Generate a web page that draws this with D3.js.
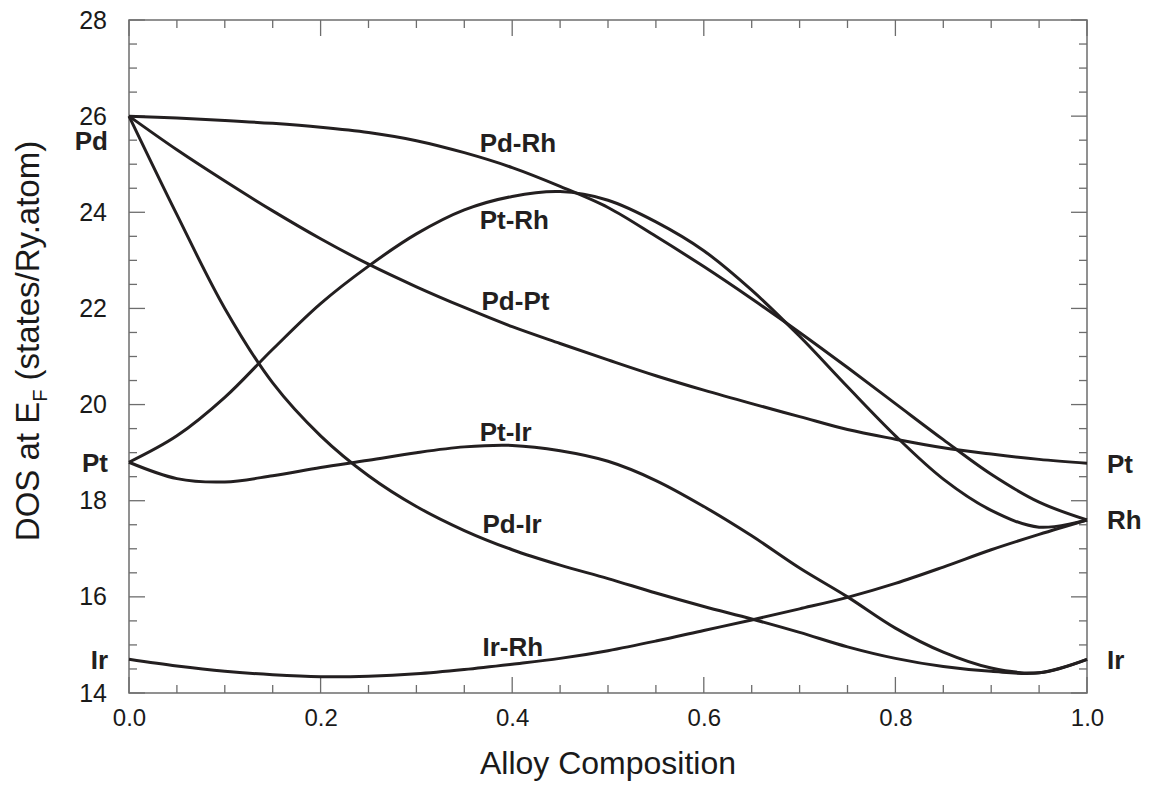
<!DOCTYPE html>
<html>
<head>
<meta charset="utf-8">
<script src="https://cdn.jsdelivr.net/npm/d3@7"></script>
<style>
  html, body { margin: 0; padding: 0; background: #fff; }
  svg { display: block; font-family: "Liberation Sans", Arial, Helvetica, sans-serif; }
</style>
</head>
<body>
<svg id="chart" width="1153" height="788"></svg>
<script>
// ---- data ----
const composition = [0, 0.05, 0.10, 0.15, 0.20, 0.25, 0.30, 0.35, 0.40, 0.45, 0.50,
                     0.55, 0.60, 0.65, 0.70, 0.75, 0.80, 0.85, 0.90, 0.95, 1.00];

const pdRh = [26.00, 25.96, 25.91, 25.85, 25.77, 25.66, 25.49, 25.24, 24.93, 24.54, 24.10,
              23.50, 22.87, 22.20, 21.50, 20.77, 20.02, 19.27, 18.55, 17.97, 17.60];
const ptRh = [18.80, 19.35, 20.15, 21.15, 22.10, 22.88, 23.55, 24.05, 24.33, 24.43, 24.25,
              23.80, 23.20, 22.38, 21.42, 20.37, 19.35, 18.45, 17.80, 17.45, 17.60];
const pdPt = [26.00, 25.30, 24.65, 24.03, 23.45, 22.92, 22.45, 22.02, 21.62, 21.27, 20.93,
              20.60, 20.30, 20.02, 19.75, 19.48, 19.28, 19.10, 18.97, 18.86, 18.78];
const ptIr = [18.80, 18.46, 18.39, 18.52, 18.69, 18.84, 19.00, 19.12, 19.15, 19.04, 18.82,
              18.42, 17.88, 17.27, 16.60, 16.00, 15.35, 14.85, 14.52, 14.42, 14.70];
const pdIr = [26.00, 23.95, 22.00, 20.45, 19.35, 18.52, 17.88, 17.38, 16.98, 16.66, 16.38,
              16.08, 15.80, 15.54, 15.26, 14.96, 14.72, 14.55, 14.45, 14.42, 14.70];
const irRh = [14.70, 14.56, 14.45, 14.38, 14.34, 14.35, 14.40, 14.49, 14.60, 14.72, 14.88,
              15.08, 15.30, 15.52, 15.75, 15.99, 16.28, 16.62, 16.98, 17.30, 17.60];

const seriesNames = ["Pd-Rh", "Pt-Rh", "Pd-Pt", "Pt-Ir", "Pd-Ir", "Ir-Rh"];
const seriesValues = [pdRh, ptRh, pdPt, ptIr, pdIr, irRh];
// label anchor (composition, DOS) for each curve label
const labelX = [0.366, 0.366, 0.368, 0.366, 0.369, 0.369];
const labelY = [25.25, 23.65, 21.97, 19.25, 17.33, 14.78];

const leftElements = ["Pd", "Pt", "Ir"];
const leftElementY = [25.50, 18.8, 14.7];
const rightElements = ["Pt", "Rh", "Ir"];
const rightElementY = [18.78, 17.6, 14.7];

const xTicks = [0, 0.2, 0.4, 0.6, 0.8, 1.0];
const yTicks = [14, 16, 18, 20, 22, 24, 26, 28];

// ---- layout ----
const W = 1153, H = 788;
const plot = { left: 129, right: 1087, top: 20, bottom: 693 };
const svg = d3.select("#chart");

const x = d3.scaleLinear().domain([0, 1]).range([plot.left, plot.right]);
const y = d3.scaleLinear().domain([14, 28]).range([plot.bottom, plot.top]);

const frameColor = "#6d6d6d";
const inkColor = "#231f20";

// minor / major ticks on all four sides (inside)
const xMinor = d3.range(0, 1.0001, 0.05);
const yMinor = d3.range(14, 28.0001, 0.5);
const major = 16, minor = 8;

const tickG = svg.append("g").attr("stroke", frameColor).attr("stroke-width", 1.3);
xMinor.forEach(v => {
  const isMajor = Math.abs(v * 5 - Math.round(v * 5)) < 1e-6;
  const len = isMajor ? major : minor;
  tickG.append("line").attr("x1", x(v)).attr("x2", x(v))
    .attr("y1", plot.bottom).attr("y2", plot.bottom - len);
  tickG.append("line").attr("x1", x(v)).attr("x2", x(v))
    .attr("y1", plot.top).attr("y2", plot.top + len);
});
yMinor.forEach(v => {
  const isMajor = Math.abs(v / 2 - Math.round(v / 2)) < 1e-6;
  const len = isMajor ? major : minor;
  tickG.append("line").attr("y1", y(v)).attr("y2", y(v))
    .attr("x1", plot.left).attr("x2", plot.left + len);
  tickG.append("line").attr("y1", y(v)).attr("y2", y(v))
    .attr("x1", plot.right).attr("x2", plot.right - len);
});

// frame
svg.append("rect")
  .attr("x", plot.left).attr("y", plot.top)
  .attr("width", plot.right - plot.left).attr("height", plot.bottom - plot.top)
  .attr("fill", "none").attr("stroke", frameColor).attr("stroke-width", 1.5);

// tick labels via d3 axes (tick lines hidden, drawn above)
const xAxis = d3.axisBottom(x).tickValues(xTicks).tickFormat(d3.format(".1f")).tickSize(0).tickPadding(16);
svg.append("g").attr("transform", `translate(0,${plot.bottom})`).call(xAxis)
  .call(g => g.select(".domain").remove())
  .selectAll("text").attr("font-size", 24).attr("fill", "#1a1a1a")
  .attr("font-family", "'Liberation Sans', Arial, sans-serif");

const yAxis = d3.axisLeft(y).tickValues(yTicks).tickFormat(d3.format("d")).tickSize(0).tickPadding(22);
svg.append("g").attr("transform", `translate(${plot.left},0)`).call(yAxis)
  .call(g => g.select(".domain").remove())
  .selectAll("text").attr("font-size", 25).attr("fill", "#1a1a1a")
  .attr("font-family", "'Liberation Sans', Arial, sans-serif");

// curves
const line = d3.line()
  .x((d, i) => x(composition[i]))
  .y(d => y(d))
  .curve(d3.curveCatmullRom.alpha(0.5));

svg.append("g").selectAll("path").data(seriesValues).join("path")
  .attr("d", d => line(d))
  .attr("fill", "none")
  .attr("stroke", inkColor)
  .attr("stroke-width", 3)
  .attr("stroke-linejoin", "round");

// curve labels
svg.append("g").selectAll("text").data(seriesNames).join("text")
  .attr("x", (d, i) => x(labelX[i]))
  .attr("y", (d, i) => y(labelY[i]))
  .attr("font-size", 26).attr("font-weight", "bold").attr("fill", inkColor)
  .text(d => d);

// element labels
svg.append("g").selectAll("text").data(leftElements).join("text")
  .attr("x", plot.left - 21)
  .attr("y", (d, i) => y(leftElementY[i]))
  .attr("dy", "0.36em")
  .attr("text-anchor", "end")
  .attr("font-size", 26).attr("font-weight", "bold").attr("fill", inkColor)
  .text(d => d);

svg.append("g").selectAll("text").data(rightElements).join("text")
  .attr("x", plot.right + 20)
  .attr("y", (d, i) => y(rightElementY[i]))
  .attr("dy", "0.36em")
  .attr("text-anchor", "start")
  .attr("font-size", 26).attr("font-weight", "bold").attr("fill", inkColor)
  .text(d => d);

// axis titles
svg.append("text")
  .attr("x", (plot.left + plot.right) / 2)
  .attr("y", 774)
  .attr("text-anchor", "middle")
  .attr("font-size", 32).attr("fill", "#1a1a1a")
  .text("Alloy Composition");

const yt = svg.append("text")
  .attr("transform", `translate(39,341) rotate(-90)`)
  .attr("text-anchor", "middle")
  .attr("font-size", 33).attr("fill", "#1a1a1a");
yt.append("tspan").text("DOS at E");
yt.append("tspan").attr("font-size", 20).attr("dy", 8).text("F");
yt.append("tspan").attr("dy", -8).text(" (states/Ry.atom)");
</script>
</body>
</html>
